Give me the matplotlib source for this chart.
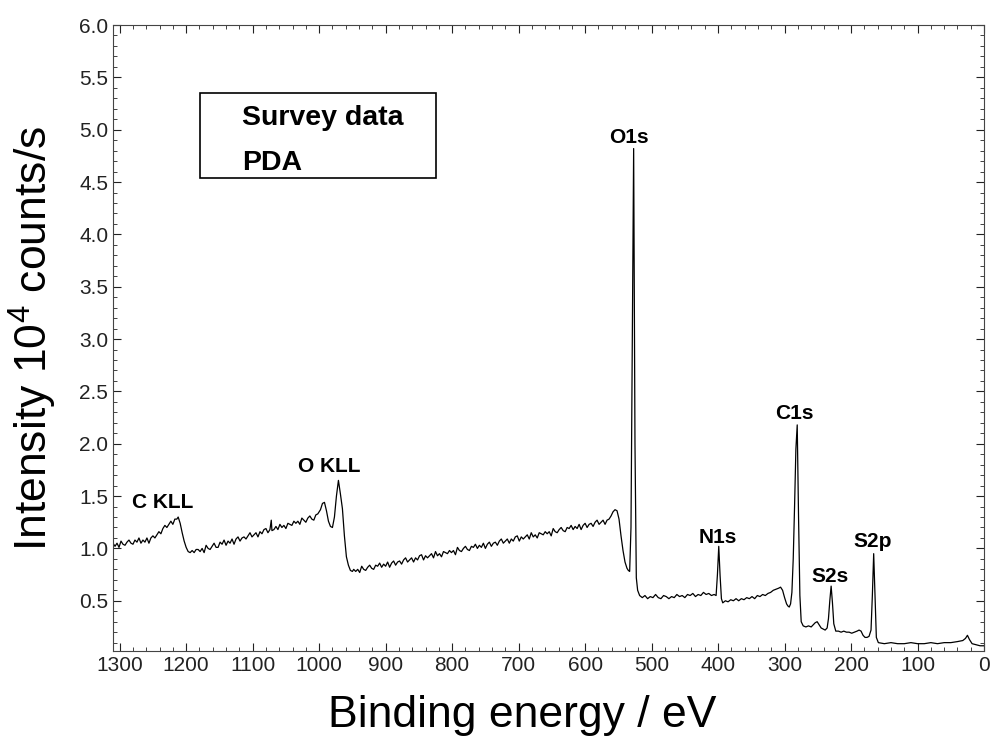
import matplotlib
matplotlib.use("Agg")
import matplotlib.pyplot as plt
from matplotlib.patches import Rectangle
from matplotlib.ticker import MultipleLocator, FormatStrFormatter

plt.rcParams['font.family'] = ['Liberation Sans', 'DejaVu Sans']
plt.rcParams['mathtext.fontset'] = 'custom'
plt.rcParams['mathtext.rm'] = 'Liberation Sans'
plt.rcParams['mathtext.default'] = 'regular'

# survey spectrum, binding energy (eV) vs intensity (10^4 counts/s)
energia = [
    # C KLL
    1310, 1307, 1304, 1301, 1298, 1295, 1292, 1289, 1286, 1283, 1280, 1277,
    1274, 1271, 1268, 1265, 1262, 1259, 1256, 1253, 1250, 1247, 1244, 1241,
    1238, 1235, 1232, 1229, 1226, 1223, 1220, 1217, 1214, 1212, 1209, 1206,
    1203, 1200, 1197, 1194, 1191, 1188, 1185,
    # up to O KLL
    1182, 1179, 1176, 1173, 1170, 1167, 1164, 1161, 1158, 1155, 1152, 1149,
    1146, 1143, 1140, 1137, 1134, 1131, 1128, 1125, 1122, 1119, 1116, 1113,
    1110, 1107, 1104, 1101, 1098, 1095, 1092, 1089, 1086, 1083, 1080, 1077,
    1074, 1072, 1071, 1068, 1065, 1062, 1059, 1056, 1053, 1050, 1047, 1044,
    1041, 1038, 1035, 1032, 1029, 1026, 1023, 1020, 1017, 1014, 1011, 1008,
    1005, 1002, 998, 995, 992, 989, 986, 983, 980, 977, 974, 971,
    968, 965, 962, 959, 956, 953, 950,
    # background slope
    948, 945, 942, 939, 936, 933, 930, 927, 924, 921, 918, 915,
    912, 909, 906, 903, 900, 897, 894, 891, 888, 885, 882, 879,
    876, 873, 870, 867, 864, 861, 858, 855, 852, 849, 846, 843,
    840, 837, 834, 831, 828, 825, 822, 819, 816, 813, 810, 807,
    804, 801, 798, 795, 792, 789, 786, 783, 780, 777, 774, 771,
    768, 765, 762, 759, 756, 753, 750, 747, 744, 741, 738, 735,
    732, 729, 726, 723, 720, 717, 714, 711, 708, 705, 702, 699,
    696, 693, 690, 687, 684, 681, 678, 675, 672, 669, 666, 663,
    660, 657, 654, 651, 648, 645, 642, 639, 636, 633, 630, 627,
    624, 621, 618, 615, 612, 609, 606, 603, 600, 597, 594, 591,
    588, 585, 582, 579, 576, 573, 570, 567,
    # O1s
    564, 561, 558, 555, 552, 549, 546, 543, 540, 537, 535, 533,
    531, 529, 527, 525, 523, 521, 518,
    # N1s
    514, 510, 506, 502, 498, 494, 490, 486, 482, 478, 474, 470,
    466, 462, 458, 454, 450, 446, 442, 438, 434, 430, 426, 422,
    418, 414, 410, 406, 403, 401, 399, 397, 395, 393,
    # C1s
    389, 385, 381, 377, 373, 369, 365, 361, 357, 353, 349, 345,
    341, 337, 333, 329, 325, 321, 317, 313,
    309, 306, 303, 300, 297, 295, 293, 291, 289, 287, 285, 283,
    281, 279, 277, 275, 272,
    # S2s
    268, 264, 260, 257, 254, 251, 248, 245, 242, 239, 236, 234,
    232, 230, 228, 226, 223,
    # S2p and low energy tail
    219, 215, 211, 207, 203, 199, 195, 191, 188, 185, 182, 179,
    176, 173, 170, 168, 166, 164, 162, 159,
    150, 140, 130, 120, 110, 100, 90, 80, 70, 60, 50, 40,
    32, 28, 25, 22, 18, 12, 6, 0,
]
intensidade = [
    1.05, 1.02, 1.05, 1.01, 1.07, 1.04, 1.03, 1.06, 1.08, 1.05, 1.04, 1.08,
    1.06, 1.10, 1.05, 1.08, 1.06, 1.10, 1.05, 1.10, 1.12, 1.10, 1.13, 1.16,
    1.14, 1.19, 1.22, 1.20, 1.23, 1.26, 1.23, 1.28, 1.28, 1.30, 1.24, 1.15,
    1.07, 1.01, 0.97, 0.96, 0.98, 0.96, 0.99,
    0.99, 0.97, 1.00, 0.96, 1.03, 1.00, 0.99, 1.02, 1.05, 1.01, 1.01, 1.06,
    1.04, 1.08, 1.03, 1.07, 1.05, 1.09, 1.04, 1.09, 1.11, 1.07, 1.10, 1.11,
    1.09, 1.12, 1.15, 1.11, 1.13, 1.15, 1.11, 1.16, 1.14, 1.18, 1.19, 1.15,
    1.18, 1.27, 1.17, 1.18, 1.21, 1.18, 1.23, 1.20, 1.22, 1.19, 1.24, 1.23,
    1.22, 1.26, 1.24, 1.26, 1.23, 1.29, 1.27, 1.25, 1.29, 1.31, 1.28, 1.27,
    1.32, 1.33, 1.37, 1.43, 1.44, 1.36, 1.26, 1.21, 1.20, 1.30, 1.50, 1.65,
    1.52, 1.38, 1.12, 0.92, 0.84, 0.79, 0.78,
    0.80, 0.78, 0.80, 0.77, 0.83, 0.80, 0.79, 0.82, 0.84, 0.81, 0.80, 0.84,
    0.83, 0.86, 0.82, 0.85, 0.83, 0.87, 0.82, 0.86, 0.88, 0.84, 0.87, 0.88,
    0.85, 0.89, 0.91, 0.87, 0.89, 0.91, 0.87, 0.91, 0.89, 0.93, 0.94, 0.89,
    0.93, 0.91, 0.93, 0.95, 0.91, 0.97, 0.93, 0.95, 0.92, 0.97, 0.96, 0.95,
    0.98, 0.96, 0.98, 0.94, 1.01, 0.98, 0.97, 1.00, 1.02, 0.99, 0.98, 1.02,
    1.01, 1.04, 1.00, 1.03, 1.01, 1.05, 1.00, 1.04, 1.06, 1.02, 1.05, 1.06,
    1.03, 1.07, 1.09, 1.05, 1.07, 1.09, 1.05, 1.09, 1.07, 1.11, 1.12, 1.07,
    1.11, 1.09, 1.11, 1.13, 1.09, 1.15, 1.11, 1.13, 1.10, 1.15, 1.14, 1.13,
    1.16, 1.14, 1.16, 1.12, 1.19, 1.16, 1.15, 1.18, 1.20, 1.17, 1.16, 1.20,
    1.19, 1.22, 1.18, 1.21, 1.19, 1.23, 1.18, 1.22, 1.24, 1.20, 1.23, 1.24,
    1.21, 1.25, 1.27, 1.23, 1.25, 1.27, 1.23, 1.27,
    1.28, 1.31, 1.35, 1.37, 1.36, 1.28, 1.12, 0.98, 0.87, 0.81, 0.79, 0.78,
    1.20, 3.00, 4.82, 2.00, 0.72, 0.60, 0.55,
    0.53, 0.55, 0.52, 0.54, 0.53, 0.56, 0.53, 0.52, 0.55, 0.54, 0.52, 0.54,
    0.53, 0.56, 0.54, 0.55, 0.53, 0.56, 0.55, 0.57, 0.54, 0.56, 0.55, 0.58,
    0.56, 0.57, 0.55, 0.56, 0.55, 0.75, 1.02, 0.74, 0.52, 0.48,
    0.50, 0.49, 0.51, 0.50, 0.52, 0.50, 0.52, 0.51, 0.53, 0.52, 0.54, 0.52,
    0.55, 0.54, 0.56, 0.55, 0.57, 0.58, 0.60, 0.61,
    0.62, 0.63, 0.60, 0.53, 0.47, 0.45, 0.44, 0.47, 0.58, 0.90, 1.40, 1.95,
    2.18, 1.30, 0.55, 0.30, 0.26,
    0.25, 0.26, 0.25, 0.27, 0.29, 0.30, 0.27, 0.24, 0.23, 0.22, 0.24, 0.33,
    0.50, 0.64, 0.48, 0.28, 0.21,
    0.21, 0.20, 0.21, 0.20, 0.20, 0.19, 0.20, 0.21, 0.22, 0.21, 0.17, 0.15,
    0.15, 0.16, 0.22, 0.55, 0.95, 0.55, 0.15, 0.10,
    0.09, 0.10, 0.09, 0.09, 0.10, 0.09, 0.09, 0.10, 0.09, 0.10, 0.10, 0.11,
    0.12, 0.14, 0.17, 0.13, 0.09, 0.08, 0.07, 0.07,
]

# peak labels: name, energy, baseline height
picos = ['C KLL', 'O KLL', 'O1s', 'N1s', 'C1s', 'S2s', 'S2p']
picos_x = [1235, 985, 534, 401, 286, 232, 167]
picos_y = [1.39, 1.73, 4.87, 1.05, 2.24, 0.68, 1.01]

fig = plt.figure(figsize=(9.94, 7.47), dpi=100)
ax = fig.add_axes([0.1137, 0.1285, 0.8763, 0.838])

ax.plot(energia, intensidade, color='black', linewidth=0.9)

for nome, px, py in zip(picos, picos_x, picos_y):
    ax.text(px, py, nome, ha='center', va='baseline', fontsize=15,
            fontweight='bold')

ax.set_xlim(1310, 0)
ax.set_ylim(0.02, 6.0)
ax.xaxis.set_major_locator(MultipleLocator(100))
ax.xaxis.set_minor_locator(MultipleLocator(20))
ax.yaxis.set_major_locator(MultipleLocator(0.5))
ax.yaxis.set_minor_locator(MultipleLocator(0.1))
ax.yaxis.set_major_formatter(FormatStrFormatter('%.1f'))

ax.tick_params(which='both', direction='in', top=True, right=True,
               labelsize=15, colors='#222222')
ax.tick_params(which='major', length=6)
ax.tick_params(which='minor', length=3)
for s in ax.spines.values():
    s.set_color('#444444')

ax.set_xlabel('Binding energy / eV', fontsize=32)
ax.set_ylabel('Intensity 10$^4$ counts/s', fontsize=32)
ax.xaxis.set_label_coords(0.47, -0.07)
ax.yaxis.set_label_coords(-0.062, 0.5)

# legend box
ax.add_patch(Rectangle((0.100, 0.756), 0.271, 0.135, transform=ax.transAxes,
                       fill=False, edgecolor='black', linewidth=1.2))
ax.text(0.148, 0.840, 'Survey data', transform=ax.transAxes, fontsize=20.5,
        fontweight='bold', va='baseline')
ax.text(0.148, 0.768, 'PDA', transform=ax.transAxes, fontsize=20.5,
        fontweight='bold', va='baseline')

fig.savefig('out.png')
